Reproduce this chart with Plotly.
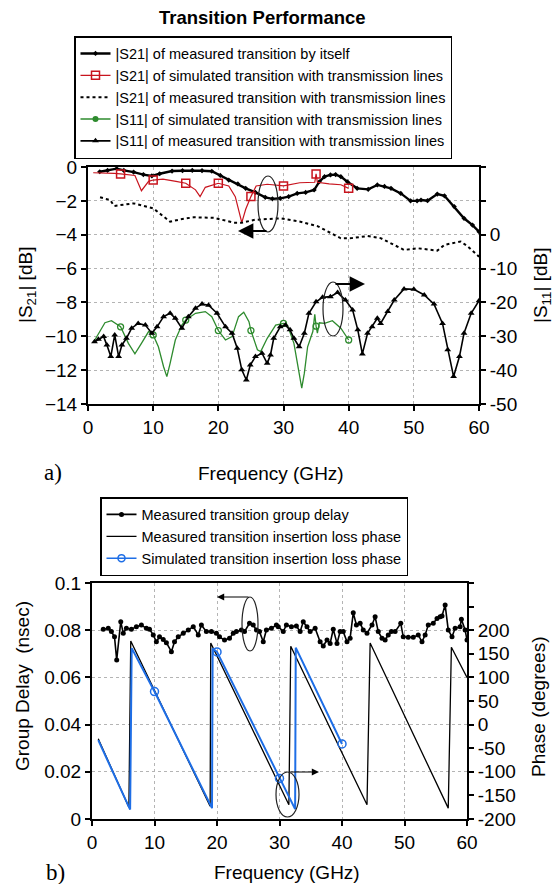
import plotly.graph_objects as go

W, H = 559, 884


def px(x):
    return x / W


def py(y):
    return 1 - y / H


FONT = "Liberation Sans, Arial, sans-serif"

# ---------------- panel a) data ----------------
s21_self_f = [1.8, 3.0, 4.4, 5.5, 7.0, 8.5, 9.8, 11.0, 12.9, 14.5, 16.0, 17.5, 19.0, 20.3, 21.6, 23.0,
              24.2, 25.7, 27.2, 28.3, 29.5, 30.8, 32.1, 33.4, 34.7, 35.5, 36.3, 37.2, 38.0, 38.8, 39.8,
              41.3, 43.0, 44.4, 45.5, 46.5, 48.0, 49.5, 50.5, 51.1, 52.1, 53.6, 54.7, 56.2, 57.7, 59.0, 60.0]
s21_self = [-0.28, -0.2, -0.10, -0.2, -0.3, -0.45, -0.53, -0.4, -0.24, -0.22, -0.2, -0.22, -0.25, -0.5,
            -0.77, -1.0, -1.26, -1.5, -1.79, -1.88, -1.85, -1.75, -1.56, -1.5, -1.36, -0.87, -0.57, -0.47,
            -0.45, -0.57, -0.87, -1.26, -1.32, -1.06, -1.15, -1.26, -1.56, -2.0, -2.0, -1.95, -1.99, -1.6,
            -1.7, -2.34, -3.03, -3.43, -3.82]

s21_sim_f = [0.8, 2.5, 4.0, 5, 6.5, 7.2, 8.2, 9.3, 10, 11.5, 13.5, 15, 16.5, 17.2, 18.0, 20, 21.6,
             22.6, 23.4, 23.6, 24.2, 25, 25.8, 27.5, 30, 32.5, 34.8, 35, 35.2, 37.0, 38.8, 40]
s21_sim = [-0.34, -0.35, -0.38, -0.41, -0.45, -0.5, -1.4, -0.85, -0.77, -0.72, -0.85, -0.96, -1.35,
           -1.75, -1.2, -0.96, -1.12, -1.75, -2.97, -3.29, -2.5, -1.75, -1.12, -1.02, -1.12, -0.93,
           -0.9, -0.41, -0.9, -1.0, -1.05, -1.26]

s21_meas_tl_f = [1.85, 3.4, 4.0, 7.0, 10.0, 12.6, 14.2, 16.2, 19.3, 22.4, 23.5, 25.6, 29.5, 32.6,
                 35.2, 38.8, 40.5, 42.9, 44.9, 48.5, 50.6, 53.6, 54.7, 57.2, 58.3, 60.0]
s21_meas_tl = [-1.79, -1.95, -2.3, -2.15, -2.44, -3.23, -3.09, -2.97, -3.0, -3.29, -3.3, -3.12, -3.03,
               -3.23, -3.49, -4.21, -4.2, -4.08, -4.2, -4.9, -4.8, -4.94, -4.6, -4.4, -4.7, -5.3]

s11_sim_f = [0.8, 1.6, 2.6, 3.6, 5, 6.2, 7.2, 8.2, 9.3, 10, 10.8, 11.6, 12.1, 12.6, 13.4, 14.4, 15,
             16.5, 18.0, 19.0, 20, 21.1, 22.1, 23.1, 23.9, 24.7, 25, 26.0, 26.5, 27.5, 28.8, 30, 30.6,
             31.6, 32.4, 32.8, 33.2, 33.7, 34.5, 34.8, 35, 35.2, 35.5, 36.3, 37.5, 38.8, 40.0]
s11_sim = [-31.9, -29.1, -26.0, -25.4, -27.2, -32.1, -35.2, -32.1, -28.6, -29.6, -33.1, -39.0, -41.9,
           -38.0, -31.1, -26.7, -25.2, -23.2, -22.7, -24.2, -28.3, -31.1, -30.1, -24.2, -22.9, -25.7,
           -28.3, -34.0, -34.5, -30.6, -26.7, -26.2, -26.7, -32.1, -40.9, -45.3, -40.9, -33.1, -28.6,
           -23.5, -27.0, -29.1, -26.0, -26.2, -25.4, -27.6, -31.1]

s11_meas_f = [1.0, 1.6, 2.4, 2.9, 3.5, 4.1, 4.7, 5.2, 5.9, 6.7, 7.7, 8.8, 9.8, 10.6, 11.6, 12.6, 13.4,
              14.4, 15.4, 16.5, 17.5, 18.5, 19.8, 21.1, 22.1, 22.9, 23.6, 24.3, 24.9, 25.7, 26.7, 27.5,
              28.0, 28.5, 29.5, 30.3, 31.0, 31.6, 32.4, 33.2, 33.9, 35.0, 36.0, 37.2, 38.3, 39.5, 40.6,
              41.4, 42.1, 42.9, 43.6, 44.4, 44.9, 46.0, 47.0, 48.5, 50.0, 51.6, 53.1, 54.4, 55.2, 56.1,
              57.0, 57.7, 58.8, 60.0]
s11_meas = [-31.6, -30.9, -30.1, -32.6, -36.0, -29.6, -36.0, -32.6, -30.6, -27.6, -26.2, -26.7, -29.1,
            -27.2, -24.2, -23.2, -24.7, -27.6, -24.2, -21.7, -20.5, -20.8, -23.2, -27.2, -29.1, -33.5,
            -39.9, -42.9, -38.5, -36.0, -35.0, -38.0, -35.5, -30.6, -27.2, -26.7, -28.1, -30.6, -33.1,
            -29.1, -23.2, -19.8, -18.5, -18.3, -17.1, -19.3, -22.2, -28.1, -35.2, -29.1, -27.2, -24.7,
            -26.2, -22.7, -19.3, -16.0, -16.1, -17.8, -20.5, -26.2, -34.0, -41.9, -36.0, -29.1, -23.2,
            -19.5]

# ---------------- panel b) data ----------------
gd_f = [1.8, 2.6, 3.1, 3.6, 3.95, 4.6, 5.0, 5.5, 6.3, 7.1, 7.9, 8.7, 9.2, 9.8, 10.3, 10.8, 11.4, 11.9,
        12.7, 13.2, 13.8, 14.6, 15.4, 16.2, 17.0, 17.5, 18.3, 19.1, 19.9, 20.4, 21.2, 22.0, 22.6, 23.1,
        23.9, 24.4, 25.2, 25.8, 26.3, 26.8, 27.4, 27.9, 28.7, 29.5, 29.8, 30.6, 31.1, 31.9, 32.7, 33.3,
        33.8, 34.4, 34.9, 35.7, 36.5, 37.0, 37.6, 38.1, 38.6, 39.2, 39.7, 40.2, 40.8, 41.3, 41.8, 42.3,
        42.9, 43.4, 44.0, 44.8, 45.3, 45.8, 46.4, 46.9, 47.4, 47.9, 48.5, 49.4, 49.8, 50.6, 51.4, 52.2,
        52.8, 53.3, 53.8, 54.6, 55.2, 55.7, 56.0, 56.5, 57.0, 57.6, 58.1, 58.9, 59.1, 59.7, 60.0]
gd = [0.0804, 0.0808, 0.0794, 0.0772, 0.0674, 0.0836, 0.0787, 0.0808, 0.0804, 0.0815, 0.0822, 0.0808,
      0.0804, 0.0780, 0.0751, 0.0772, 0.0761, 0.0747, 0.0709, 0.0751, 0.0772, 0.0787, 0.0801, 0.0815,
      0.0780, 0.0822, 0.0794, 0.0794, 0.0787, 0.0772, 0.0758, 0.0766, 0.0787, 0.0794, 0.0801, 0.0794,
      0.0829, 0.0822, 0.0801, 0.0794, 0.0751, 0.0801, 0.0808, 0.0822, 0.0815, 0.0794, 0.0822, 0.0815,
      0.0818, 0.0794, 0.0836, 0.0815, 0.0794, 0.0808, 0.0751, 0.0733, 0.0758, 0.0744, 0.0804, 0.0744,
      0.0794, 0.0794, 0.0751, 0.0766, 0.0874, 0.0822, 0.0829, 0.0801, 0.0787, 0.0822, 0.0857, 0.0794,
      0.0766, 0.0758, 0.0780, 0.0794, 0.0794, 0.0829, 0.0772, 0.0770, 0.0770, 0.0780, 0.0751, 0.0780,
      0.0822, 0.0829, 0.0850, 0.0857, 0.0860, 0.0907, 0.0801, 0.0772, 0.0808, 0.0815, 0.0846, 0.0801,
      0.0758]

ph_meas_f = [1.0, 5.9, 6.2, 18.9, 19.0, 31.5, 31.8, 44.0, 44.5, 57.0, 57.5, 60.0]
ph_meas = [-30, -175, 177, -173, 173, -170, 166, -170, 173, -177, 164, 100]

ph_sim_f = [1.0, 6.1, 6.35, 10, 19.2, 19.3, 20, 30, 32.5, 32.6, 40]
ph_sim = [-33, -180, 162, 70, -177, 161, 154, -114, -179, 163, -41]

x_ticks = [0, 10, 20, 30, 40, 50, 60]
s11_tickvals = [-50, -40, -30, -20, -10, 0, 10, 20]
s11_ticktext = ["-50", "-40", "-30", "-20", "-10", "0", "", ""]
ph_tickvals = [-200, -150, -100, -50, 0, 50, 100, 150, 200, 250, 300]
ph_ticktext = ["-200", "-150", "-100", "-50", "0", "50", "100", "150", "200", "", ""]

RED = "#c8141e"
GREEN = "#2e8b2e"
BLUE = "#1e6ee6"


def subset(fs, vs, step):
    xs, ys = [], []
    for f, v in zip(fs, vs):
        if abs(f / step - round(f / step)) < 1e-9:
            xs.append(f)
            ys.append(v)
    return xs, ys


fig = go.Figure()

# ---- panel a traces ----
fig.add_trace(go.Scatter(x=s21_self_f, y=s21_self, xaxis="x", yaxis="y", mode="lines+markers",
                         line=dict(color="black", width=2.4), marker=dict(symbol="diamond", size=4, color="black"),
                         name="|S21| of measured transition by itself", legend="legend"))

fig.add_trace(go.Scatter(x=s21_sim_f, y=s21_sim, xaxis="x", yaxis="y", mode="lines",
                         line=dict(color=RED, width=1.2), showlegend=False, legend="legend"))
mx, my = subset(s21_sim_f, s21_sim, 5)
fig.add_trace(go.Scatter(x=mx, y=my, xaxis="x", yaxis="y", mode="markers",
                         marker=dict(symbol="square-open", size=8, color=RED, line=dict(width=1.5)),
                         showlegend=False, legend="legend"))
fig.add_trace(go.Scatter(x=[None], y=[None], xaxis="x", yaxis="y", mode="lines+markers",
                         line=dict(color=RED, width=1.2),
                         marker=dict(symbol="square-open", size=8, color=RED, line=dict(width=1.5)),
                         name="|S21| of simulated transition with transmission lines", legend="legend"))

fig.add_trace(go.Scatter(x=s21_meas_tl_f, y=s21_meas_tl, xaxis="x", yaxis="y", mode="lines",
                         line=dict(color="black", width=2, dash="dot"),
                         name="|S21| of measured transition with transmission lines", legend="legend"))

fig.add_trace(go.Scatter(x=s11_sim_f, y=s11_sim, xaxis="x", yaxis="y2", mode="lines",
                         line=dict(color=GREEN, width=1.3), showlegend=False, legend="legend"))
gx, gy = subset(s11_sim_f, s11_sim, 5)
fig.add_trace(go.Scatter(x=gx, y=gy, xaxis="x", yaxis="y2", mode="markers",
                         marker=dict(symbol="circle-open", size=6, color=GREEN, line=dict(width=1.3)),
                         showlegend=False, legend="legend"))
fig.add_trace(go.Scatter(x=[None], y=[None], xaxis="x", yaxis="y2", mode="lines+markers",
                         line=dict(color=GREEN, width=1.3),
                         marker=dict(symbol="circle", size=6, color=GREEN),
                         name="|S11| of simulated transition with transmission lines", legend="legend"))

fig.add_trace(go.Scatter(x=s11_meas_f, y=s11_meas, xaxis="x", yaxis="y2", mode="lines+markers",
                         line=dict(color="black", width=1.6),
                         marker=dict(symbol="triangle-up", size=6, color="black"),
                         name="|S11| of measured transition with transmission lines", legend="legend"))

# ---- panel b traces ----
fig.add_trace(go.Scatter(x=gd_f, y=gd, xaxis="x2", yaxis="y3", mode="lines+markers",
                         line=dict(color="black", width=1.6), marker=dict(symbol="circle", size=5, color="black"),
                         name="Measured transition group delay", legend="legend2"))
fig.add_trace(go.Scatter(x=ph_meas_f, y=ph_meas, xaxis="x2", yaxis="y4", mode="lines",
                         line=dict(color="black", width=1.3),
                         name="Measured transition insertion loss phase", legend="legend2"))
fig.add_trace(go.Scatter(x=ph_sim_f, y=ph_sim, xaxis="x2", yaxis="y4", mode="lines",
                         line=dict(color=BLUE, width=2), showlegend=False, legend="legend2"))
bx, by = subset(ph_sim_f, ph_sim, 10)
fig.add_trace(go.Scatter(x=bx, y=by, xaxis="x2", yaxis="y4", mode="markers",
                         marker=dict(symbol="circle-open", size=8, color=BLUE, line=dict(width=1.5)),
                         showlegend=False, legend="legend2"))
fig.add_trace(go.Scatter(x=[None], y=[None], xaxis="x2", yaxis="y4", mode="lines+markers",
                         line=dict(color=BLUE, width=1.5),
                         marker=dict(symbol="circle-open", size=7, color=BLUE, line=dict(width=1.5)),
                         name="Simulated transition insertion loss phase", legend="legend2"))

axis_common = dict(showline=True, linecolor="black", linewidth=2, ticks="outside", ticklen=5,
                   tickwidth=1.5, tickcolor="black", zeroline=False, automargin=False,
                   tickfont=dict(family=FONT, size=19, color="black"))
grid = dict(showgrid=True, gridcolor="#b4b4b4", gridwidth=1, griddash="dot")

fig.update_layout(
    template="none",
    width=W, height=H,
    margin=dict(l=0, r=0, t=0, b=0, pad=0),
    paper_bgcolor="white", plot_bgcolor="white",
    font=dict(family=FONT, color="black"),
    xaxis=dict(domain=[px(88), px(479)], anchor="y", range=[0, 60], tickvals=x_ticks,
               mirror=True, **axis_common, **grid),
    yaxis=dict(domain=[py(404), py(167)], anchor="x", range=[-14, 0], dtick=2, **axis_common, **grid),
    yaxis2=dict(overlaying="y", side="right", anchor="x", range=[-50, 20], tickvals=s11_tickvals,
                ticktext=s11_ticktext, showgrid=False, **axis_common),
    xaxis2=dict(domain=[px(92), px(467)], anchor="y3", range=[0, 60], tickvals=x_ticks,
                mirror=True, **axis_common, **grid),
    yaxis3=dict(domain=[py(819), py(583)], anchor="x2", range=[0, 0.1], dtick=0.02, **axis_common, **grid),
    yaxis4=dict(overlaying="y3", side="right", anchor="x2", range=[-200, 300], tickvals=ph_tickvals,
                ticktext=ph_ticktext, showgrid=False, **axis_common),
    legend=dict(x=px(74), y=py(36), xanchor="left", yanchor="top", bgcolor="white",
                bordercolor="black", borderwidth=1.5, itemwidth=30, tracegroupgap=0,
                font=dict(family=FONT, size=14.5, color="black")),
    legend2=dict(x=px(100), y=py(497), xanchor="left", yanchor="top", bgcolor="white",
                 bordercolor="black", borderwidth=1.5, itemwidth=30, tracegroupgap=0,
                 font=dict(family=FONT, size=14.5, color="black")),
)

ann = [
    dict(text="<b>Transition Performance</b>", x=px(262), y=py(17), font=dict(size=18.5)),
    dict(text="Frequency (GHz)", x=px(271), y=py(473), font=dict(size=19)),
    dict(text="Frequency (GHz)", x=px(287), y=py(872), font=dict(size=19)),
    dict(text="|S<sub>21</sub>| [dB]", x=px(27), y=py(285), textangle=-90, font=dict(size=19)),
    dict(text="|S<sub>11</sub>| [dB]", x=px(542), y=py(286), textangle=-90, font=dict(size=19)),
    dict(text="Group Delay\u00a0\u00a0(nsec)", x=px(22), y=py(686), textangle=-90, font=dict(size=19)),
    dict(text="Phase (degrees)", x=px(538), y=py(707), textangle=-90, font=dict(size=19)),
    dict(text="a)", x=px(53), y=py(472), font=dict(size=23, family="Liberation Serif, Times New Roman, serif")),
    dict(text="b)", x=px(55), y=py(872), font=dict(size=23, family="Liberation Serif, Times New Roman, serif")),
]
for a in ann:
    a.update(xref="paper", yref="paper", showarrow=False, xanchor="center", yanchor="middle")
    a["font"] = dict(family=a["font"].get("family", FONT), size=a["font"]["size"], color="black")
    fig.add_annotation(**a)

# arrows (head at x,y; tail offset in pixels)
arrows = [
    (238, 231, 268, 231, 2.2, 1.4),
    (365, 284, 334, 284, 2.2, 1.4),
    (217, 597, 250, 597, 1.2, 1.2),
    (319, 772, 289, 772, 1.2, 1.2),
]
for hx, hy, tx, ty, w, s in arrows:
    fig.add_annotation(x=px(hx), y=py(hy), xref="paper", yref="paper", text="", showarrow=True,
                       ax=tx - hx, ay=ty - hy, arrowhead=2, arrowsize=s, arrowwidth=w,
                       arrowcolor="black")

ellipses = [(258, 176, 278, 232), (323, 282, 343, 336), (242, 597, 258, 651), (276, 772, 299, 817)]
for x0, y0, x1, y1 in ellipses:
    fig.add_shape(type="circle", xref="paper", yref="paper", x0=px(x0), x1=px(x1), y0=py(y1), y1=py(y0),
                  line=dict(color="#222", width=1.2))

fig.write_html("out.html", config={"displayModeBar": False},
               post_script="document.body.style.margin='0px';document.body.style.overflow='hidden';")
